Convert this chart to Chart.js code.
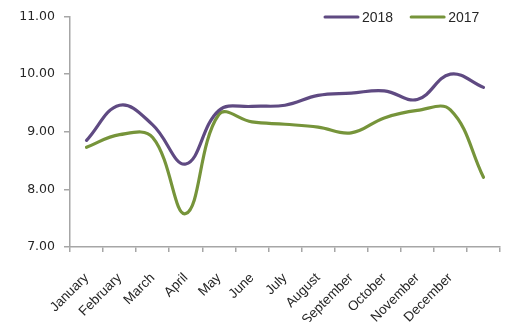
<!DOCTYPE html>
<html>
<head>
<meta charset="utf-8">
<script src="https://cdn.jsdelivr.net/npm/chart.js@4/dist/chart.umd.min.js"></script>
<style>
  html, body { margin: 0; padding: 0; background: #fff; }
  #wrap { width: 513px; height: 322px; }
</style>
</head>
<body>
<div id="wrap"><canvas id="monthChart"></canvas></div>
<script>
// last slot has no label, the lines run one step past December
const months = ["January", "February", "March", "April", "May", "June", "July",
  "August", "September", "October", "November", "December", ""];
const values2018 = [8.85, 9.46, 9.12, 8.44, 9.37, 9.44, 9.46, 9.63, 9.67, 9.71, 9.56, 10.0, 9.77];
const values2017 = [8.73, 8.95, 8.90, 7.58, 9.30, 9.17, 9.13, 9.08, 8.98, 9.24, 9.37, 9.38, 8.21];
const yTicks = [7, 8, 9, 10, 11];

const purple = "#5f4a82";
const green = "#76943a";
const axisGray = "#a6a6a6";

// small legend drawn over the top right of the plot
const lineLegend = {
  id: "lineLegend",
  afterDraw(chart) {
    const ctx = chart.ctx;
    let x = 325;
    const y = 17;
    ctx.save();
    ctx.font = "14px 'Liberation Sans', sans-serif";
    ctx.textBaseline = "middle";
    chart.data.datasets.forEach(ds => {
      ctx.strokeStyle = ds.borderColor;
      ctx.lineWidth = 3;
      ctx.lineCap = "round";
      ctx.beginPath();
      ctx.moveTo(x, y);
      ctx.lineTo(x + 33, y);
      ctx.stroke();
      ctx.fillStyle = "#262626";
      ctx.fillText(ds.label, x + 37, y + 1);
      x += 37 + ctx.measureText(ds.label).width + 18;
    });
    ctx.restore();
  }
};

new Chart(document.getElementById("monthChart"), {
  type: "line",
  data: {
    labels: months,
    datasets: [
      { label: "2018", data: values2018, borderColor: purple, backgroundColor: purple },
      { label: "2017", data: values2017, borderColor: green, backgroundColor: green }
    ]
  },
  options: {
    responsive: true,
    maintainAspectRatio: false,
    animation: false,
    layout: { padding: { top: 10, right: 2, left: 0, bottom: 0 } },
    elements: {
      line: { borderWidth: 3.2, tension: 0.4, borderCapStyle: "round" },
      point: { radius: 0 }
    },
    plugins: {
      legend: { display: false },
      tooltip: { enabled: false }
    },
    scales: {
      x: {
        offset: true,
        grid: { offset: true, drawOnChartArea: false, tickLength: 5, color: axisGray, lineWidth: 1.5 },
        border: { color: axisGray, width: 1.5 },
        ticks: {
          autoSkip: false,
          minRotation: 45,
          maxRotation: 45,
          padding: 18,
          color: "#262626",
          font: { family: "'Liberation Sans', sans-serif", size: 13.5 }
        },
        afterFit(scale) { scale.height = 75; }
      },
      y: {
        min: 7,
        max: 11,
        afterBuildTicks(scale) { scale.ticks = yTicks.map(v => ({ value: v })); },
        grid: { drawOnChartArea: false, tickLength: 6, color: axisGray, lineWidth: 1.5 },
        border: { color: axisGray, width: 1.5 },
        ticks: {
          padding: 9,
          color: "#262626",
          font: { family: "'DejaVu Sans', sans-serif", size: 12.5 },
          callback: v => v.toFixed(2)
        },
        afterFit(scale) { scale.width = 70; }
      }
    }
  },
  plugins: [lineLegend]
});
</script>
</body>
</html>
